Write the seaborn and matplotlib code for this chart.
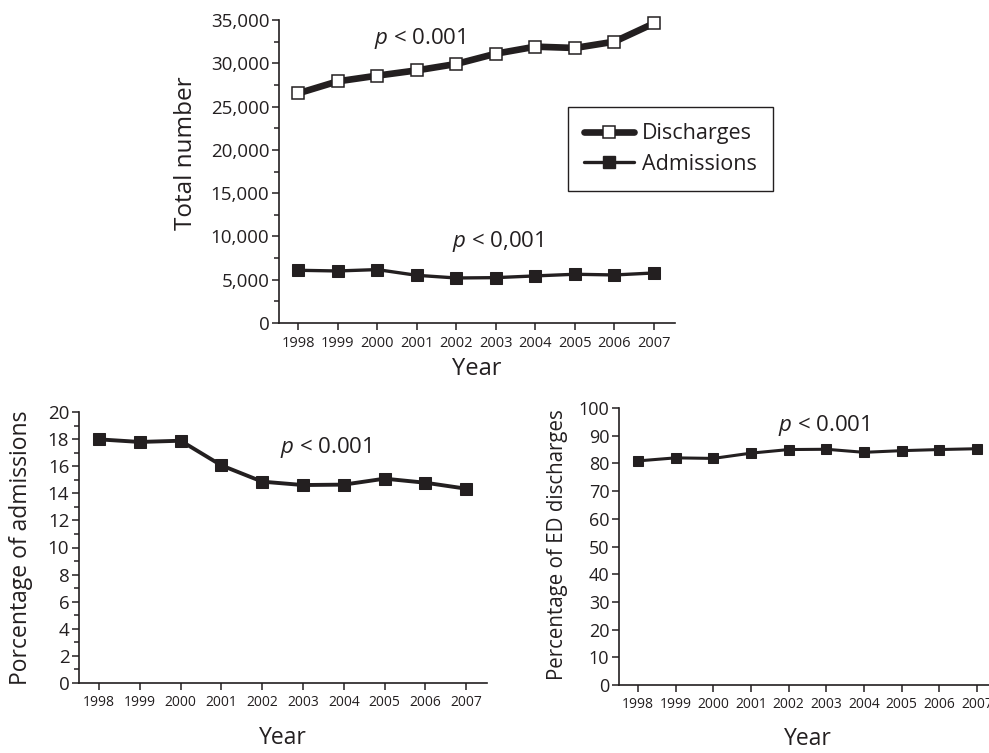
import numpy as np
import pandas as pd
import matplotlib
matplotlib.use("Agg")
import matplotlib.pyplot as plt
import matplotlib.ticker as mticker
from matplotlib.lines import Line2D
import seaborn as sns

# =========================
# Data
# =========================
years = [1998, 1999, 2000, 2001, 2002, 2003, 2004, 2005, 2006, 2007]
discharges = [26520, 27910, 28570, 29180, 29920, 31110, 31920, 31770, 32500, 34620]
admissions = [6090, 6010, 6170, 5510, 5200, 5240, 5440, 5630, 5550, 5780]
pct_admissions = [17.98, 17.79, 17.88, 16.06, 14.86, 14.61, 14.64, 15.08, 14.78, 14.34]
pct_ed_discharges = [80.9, 82.0, 81.8, 83.7, 85.0, 85.1, 84.0, 84.6, 85.0, 85.3]

df = pd.DataFrame({
    "year": years,
    "discharges": discharges,
    "admissions": admissions,
    "pct_adm": pct_admissions,
    "pct_dis": pct_ed_discharges,
})

# =========================
# Style
# =========================
sns.set_style("ticks")
plt.rcParams["font.family"] = ["Open Sans", "DejaVu Sans"]
plt.rcParams["mathtext.fontset"] = "custom"
plt.rcParams["mathtext.it"] = "Open Sans:italic"
plt.rcParams["mathtext.rm"] = "Open Sans"
INK = "#231f20"

fig = plt.figure(figsize=(9.89, 7.53), dpi=100)
W, H = 989, 753

def px_axes(x0, x1, ytop, ybot):
    return fig.add_axes([x0 / W, 1 - ybot / H, (x1 - x0) / W, (ybot - ytop) / H])

def style_axes(ax, ytick_size, xtick_size):
    sns.despine(ax=ax)
    for s in ["left", "bottom"]:
        ax.spines[s].set_color(INK)
        ax.spines[s].set_linewidth(1.2)
    ax.tick_params(axis="both", which="both", direction="out", color=INK, width=1.1)
    ax.tick_params(axis="both", which="major", length=5)
    ax.tick_params(axis="y", which="minor", length=3.5)
    ax.tick_params(axis="y", labelsize=ytick_size, colors=INK, pad=2)
    ax.tick_params(axis="x", labelsize=xtick_size, colors=INK, pad=4)
    ax.set_xticks(years)
    ax.set_xticklabels([str(y) for y in years])
    ax.set_facecolor("white")
    for ln in ax.lines:
        ln.set_clip_on(False)

# =========================
# Top panel: totals
# =========================
ax1 = px_axes(279, 675, 20, 323)
sns.lineplot(data=df, x="year", y="discharges", ax=ax1, color=INK, lw=4.8,
             marker="s", markersize=8, markerfacecolor="white",
             markeredgecolor=INK, markeredgewidth=1.1)
sns.lineplot(data=df, x="year", y="admissions", ax=ax1, color=INK, lw=2.4,
             marker="s", markersize=9, markerfacecolor=INK, markeredgecolor=INK)
ax1.set_xlim(1997.52, 2007.53)
ax1.set_ylim(0, 35000)
ax1.set_yticks(np.arange(0, 35001, 5000))
ax1.yaxis.set_minor_locator(mticker.MultipleLocator(2500))
ax1.yaxis.set_major_formatter(mticker.StrMethodFormatter("{x:,.0f}"))
style_axes(ax1, 13.5, 10.5)
ax1.set_ylabel("Total number", fontsize=17.5, color=INK)
ax1.yaxis.set_label_coords(-0.205, 0.56)
ax1.set_xlabel("Year", fontsize=17, color=INK, labelpad=5)
ax1.text(1999.93, 32900, "$p$ < 0.001", fontsize=16, color=INK, va="center")
ax1.text(2001.9, 9370, "$p$ < 0,001", fontsize=16, color=INK, va="center")

handles = [
    Line2D([], [], color=INK, lw=4.8, marker="s", markersize=8,
           markerfacecolor="white", markeredgecolor=INK, markeredgewidth=1.1),
    Line2D([], [], color=INK, lw=2.4, marker="s", markersize=9,
           markerfacecolor=INK, markeredgecolor=INK),
]
leg = ax1.legend(handles, ["Discharges", "Admissions"], loc="upper left",
                 bbox_to_anchor=(568 / W, 1 - 107 / H), bbox_transform=fig.transFigure,
                 borderaxespad=0, frameon=True, fancybox=False, fontsize=15.5,
                 handlelength=2.3, handletextpad=0.4, labelspacing=0.45,
                 borderpad=0.75, edgecolor=INK)
leg.get_frame().set_linewidth(1.0)
leg.get_frame().set_alpha(1)
for t in leg.get_texts():
    t.set_color(INK)

# =========================
# Bottom-left: percentage of admissions
# =========================
ax2 = px_axes(79, 487, 412, 683)
sns.lineplot(data=df, x="year", y="pct_adm", ax=ax2, color=INK, lw=2.8,
             marker="s", markersize=8.5, markerfacecolor=INK, markeredgecolor=INK)
ax2.set_xlim(1997.51, 2007.51)
ax2.set_ylim(0, 20)
ax2.set_yticks(np.arange(0, 21, 2))
ax2.yaxis.set_minor_locator(mticker.MultipleLocator(1))
style_axes(ax2, 13.5, 10)
ax2.set_ylabel("Porcentage of admissions", fontsize=16.5, color=INK)
ax2.yaxis.set_label_coords(-0.112, 0.5)
ax2.set_xlabel("Year", fontsize=16.5, color=INK)
ax2.xaxis.set_label_coords(0.5, -0.158)
ax2.text(2002.44, 17.4, "$p$ < 0.001", fontsize=16, color=INK, va="center")

# =========================
# Bottom-right: percentage of ED discharges
# =========================
ax3 = px_axes(619, 996, 408, 685)
sns.lineplot(data=df, x="year", y="pct_dis", ax=ax3, color=INK, lw=2.2,
             marker="s", markersize=6.8, markerfacecolor=INK, markeredgecolor=INK)
ax3.set_xlim(1997.5, 2007.5)
ax3.set_ylim(0, 100)
ax3.set_yticks(np.arange(0, 101, 10))
style_axes(ax3, 13, 10)
ax3.set_ylabel("Percentage of ED discharges", fontsize=14.8, color=INK)
ax3.yaxis.set_label_coords(-0.135, 0.505)
ax3.set_xlabel("Year", fontsize=16.5, color=INK)
ax3.xaxis.set_label_coords(0.5, -0.15)
ax3.text(2001.73, 93.7, "$p$ < 0.001", fontsize=16, color=INK, va="center")

fig.savefig("out.png", dpi=100, facecolor="white")
